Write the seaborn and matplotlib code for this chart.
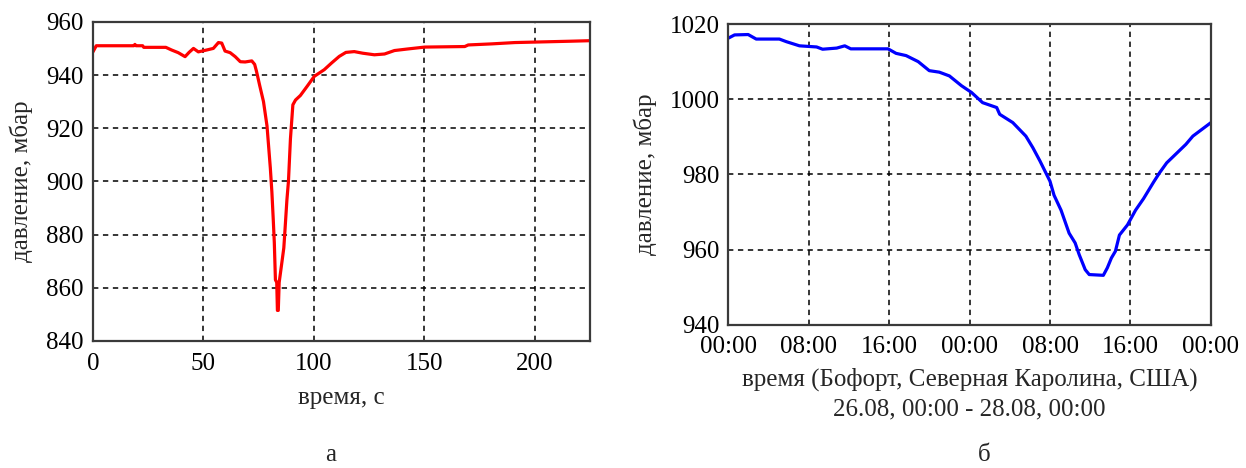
import matplotlib
matplotlib.use("Agg")
import matplotlib.pyplot as plt
import pandas as pd
import seaborn as sns

# (a) pressure during the passage of a vortex, seconds
time_s = [0, 1.5, 10, 18.5, 19, 19.5, 22.5, 23, 33, 35.6, 38.6, 41.7, 43.5, 45.5,
          47.7, 51.5, 54.5, 56.8, 58.3, 59.8, 62.1, 64.4, 66.7, 68.9, 71.9, 73.2,
          74, 75.5, 77.2, 78.8, 80.3, 81, 81.6, 82.1, 82.6, 83.2, 83.5, 83.9, 84.3,
          85.6, 86.4, 86.8, 87.8, 88.5, 89.4, 90.5, 91.7, 93.9, 97, 100.2, 104.7,
          108, 111.5, 114.5, 118.3, 122.1, 127.4, 132, 136.5, 142.6, 150.2, 168.3,
          169.9, 180.5, 191, 216, 225]
pressure_a = [948.7, 951, 951, 951, 951.5, 951, 951, 950.4, 950.4, 949.4, 948.4,
              946.9, 948.5, 950, 948.7, 949.4, 950, 952.2, 952, 949, 948.4, 946.9,
              945, 944.9, 945.3, 944, 941.5, 936, 930, 920.8, 905, 896, 886, 877,
              863, 862, 851.5, 851.5, 862, 870, 875, 880, 893, 900, 916, 928.8,
              930.6, 932.3, 935.8, 939.5, 942, 944.5, 947, 948.5, 948.8, 948.2,
              947.6, 947.9, 949.2, 949.8, 950.5, 950.7, 951.3, 951.7, 952.2, 952.7,
              952.9]

# (b) hurricane pressure, hours since 26.08 00:00
time_h = [0, 0.65, 2, 2.8, 5.1, 5.8, 7.1, 8.8, 9.4, 10.8, 11.6, 12.2, 15.9, 16.7,
          17.7, 18.9, 20, 21, 22, 23.2, 24.2, 25.3, 26.7, 27, 28.3, 29.6, 30.3, 31,
          32, 32.4, 33.1, 33.9, 34.5, 34.9, 35.5, 35.9, 37.3, 37.7, 38.1, 38.5,
          38.9, 39.7, 40.5, 41.3, 42.3, 42.9, 43.6, 45.5, 46.2, 48]
pressure_b = [1016.2, 1017.1, 1017.2, 1016.0, 1016.0, 1015.3, 1014.2, 1013.9,
              1013.3, 1013.6, 1014.2, 1013.4, 1013.4, 1012.2, 1011.6, 1010, 1007.6,
              1007.2, 1006.2, 1003.6, 1001.8, 999.1, 997.8, 996, 993.8, 990.2, 987.1,
              983.6, 978.2, 974.5, 970.5, 964.4, 961.8, 958.7, 954.7, 953.4, 953.2,
              955.2, 957.8, 959.6, 963.9, 966.6, 970.5, 973.6, 978, 980.5, 983.1,
              988, 990.2, 993.8]

a_xticks = [0, 50, 100, 150, 200]
a_yticks = [840, 860, 880, 900, 920, 940, 960]
b_xticks = [0, 8, 16, 24, 32, 40, 48]
b_xticklabels = ["00:00", "08:00", "16:00", "00:00", "08:00", "16:00", "00:00"]
b_yticks = [940, 960, 980, 1000, 1020]

sns.set_theme(style="white")
plt.rcParams["font.family"] = ["Liberation Serif", "DejaVu Serif"]
FS = 18

fig = plt.figure(figsize=(12.46, 4.68), dpi=100)
ax_a = fig.add_axes([0.0746, 0.2714, 0.3989, 0.682])
ax_b = fig.add_axes([0.5843, 0.3056, 0.3876, 0.6431])

df_a = pd.DataFrame({"t": time_s, "p": pressure_a})
df_b = pd.DataFrame({"t": time_h, "p": pressure_b})

sns.lineplot(data=df_a, x="t", y="p", ax=ax_a, color="#ff0000", linewidth=2.3,
             estimator=None, sort=False)
sns.lineplot(data=df_b, x="t", y="p", ax=ax_b, color="#0000ff", linewidth=2.3,
             estimator=None, sort=False)

ax_a.set_xlim(0, 225)
ax_a.set_ylim(840, 960)
ax_a.set_xticks(a_xticks)
ax_a.set_yticks(a_yticks)
ax_a.set_xlabel("время, с", fontsize=FS, labelpad=8)
ax_a.set_ylabel("давление, мбар", fontsize=FS, labelpad=9)

ax_b.set_xlim(0, 48)
ax_b.set_ylim(940, 1020)
ax_b.set_xticks(b_xticks)
ax_b.set_xticklabels(b_xticklabels)
ax_b.set_yticks(b_yticks)
ax_b.set_xlabel("время (Бофорт, Северная Каролина, США)\n26.08, 00:00 - 28.08, 00:00",
                fontsize=FS, labelpad=7, linespacing=1.45)
ax_b.set_ylabel("давление, мбар", fontsize=FS, labelpad=9)

for ax in (ax_a, ax_b):
    ax.grid(True, color="black", linestyle=(0, (3.5, 3)), linewidth=1.1)
    ax.set_axisbelow(True)
    ax.tick_params(axis="both", labelsize=FS, length=0, colors="black")
    for sp in ax.spines.values():
        sp.set_color("#3a3a3a")
        sp.set_linewidth(1.6)

ax_a.tick_params(axis="x", pad=9)
ax_a.tick_params(axis="y", pad=7)
ax_b.tick_params(axis="x", pad=8)
ax_b.tick_params(axis="y", pad=6)

fig.text(0.265, 0.004, "а", fontsize=FS, ha="center", va="bottom")
fig.text(0.790, 0.004, "б", fontsize=FS, ha="center", va="bottom")

fig.savefig("out.png", dpi=100, facecolor="white")
